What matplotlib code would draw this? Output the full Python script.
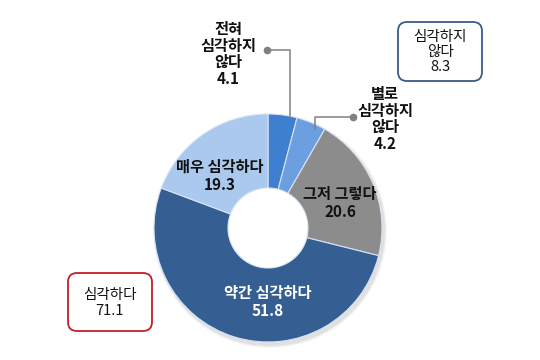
import matplotlib
matplotlib.use("Agg")
import matplotlib.pyplot as plt
from matplotlib.patches import FancyBboxPatch, Circle
import numpy as np

plt.rcParams['font.family'] = ['Noto Sans CJK KR', 'DejaVu Sans']

categories = ['전혀\n심각하지\n않다', '별로\n심각하지\n않다', '그저 그렇다', '약간 심각하다', '매우 심각하다']
values = [4.1, 4.2, 20.6, 51.8, 19.3]
colors = ['#3f7fd0', '#6b9fe0', '#8c8c8c', '#355f93', '#abc9ee']
group_labels = ['심각하지\n않다', '심각하다']
group_values = [8.3, 71.1]

W, H = 540, 360
fig = plt.figure(figsize=(W / 100, H / 100), dpi=100)
ax = fig.add_axes([0, 0, 1, 1])

cx, cy, R = 268, H - 228, 114
rin = 40

# soft shadow
for i, a in enumerate([0.05, 0.04, 0.03]):
    ax.add_patch(Circle((cx + 2, cy - 3), R + 1 + i, color='k', alpha=a, zorder=0, lw=0))

wedges, _ = ax.pie(values, colors=colors, startangle=90, counterclock=False,
                   center=(cx, cy), radius=R, frame=True,
                   wedgeprops=dict(width=R - rin, edgecolor='#d6e4f4', linewidth=0.8))
ax.add_patch(Circle((cx, cy), rin - 0.5, color='white', zorder=3, lw=0))
ax.set_xlim(0, W)
ax.set_ylim(0, H)
ax.set_aspect('equal')
ax.axis('off')

fs = 11
fw = 'bold'
# inside labels
ax.text(220, H - 176, f'{categories[4]}\n{values[4]}', ha='center', va='center', fontsize=fs,
        color='#111111', linespacing=1.15, fontweight=fw)
ax.text(340, H - 203, f'{categories[2]}\n{values[2]}', ha='center', va='center', fontsize=fs,
        color='#111111', linespacing=1.15, fontweight=fw)
ax.text(268, H - 302, f'{categories[3]}\n{values[3]}', ha='center', va='center', fontsize=fs,
        color='white', linespacing=1.15, fontweight=fw)

# outside labels
ax.text(228, H - 54, f'{categories[0]}\n{values[0]}', ha='center', va='center', fontsize=fs,
        color='#111111', linespacing=1.05, fontweight=fw)
ax.text(385, H - 119, f'{categories[1]}\n{values[1]}', ha='center', va='center', fontsize=fs,
        color='#111111', linespacing=1.05, fontweight=fw)

# leader lines
ax.plot([267, 290, 290], [H - 50, H - 50, H - 116], color='#808080', lw=1.1, zorder=5)
ax.plot([267], [H - 50], 'o', color='#808080', ms=4.5, zorder=5)
ax.plot([353, 315, 315], [H - 117, H - 117, H - 129], color='#808080', lw=1.1, zorder=5)
ax.plot([353], [H - 117], 'o', color='#808080', ms=4.5, zorder=5)

# group boxes
b1 = FancyBboxPatch((398, H - 81), 84, 59, boxstyle='round,pad=0,rounding_size=9',
                    fc='white', ec='#3a5a8c', lw=1.3, zorder=4)
ax.add_patch(b1)
ax.text(440, H - 52, f'{group_labels[0]}\n{group_values[0]}', ha='center', va='center',
        fontsize=10.5, color='#111111', linespacing=1.1, zorder=6)

b2 = FancyBboxPatch((68, H - 331), 84, 58, boxstyle='round,pad=0,rounding_size=9',
                    fc='white', ec='#c41e2a', lw=1.3, zorder=4)
ax.add_patch(b2)
ax.text(110, H - 303, f'{group_labels[1]}\n{group_values[1]}', ha='center', va='center',
        fontsize=10.5, color='#111111', linespacing=1.1, zorder=6)

fig.savefig('out.png', dpi=100)
